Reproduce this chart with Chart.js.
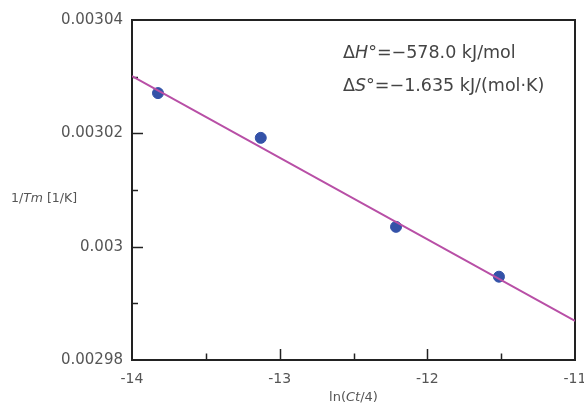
<!DOCTYPE html>
<html>
<head>
<meta charset="utf-8">
<script src="https://cdn.jsdelivr.net/npm/chart.js@4.4.1/dist/chart.umd.min.js"></script>
<style>
  html, body { margin: 0; padding: 0; background: #fff; }
  #chart { display: block; }
</style>
</head>
<body>
<canvas id="chart" width="584" height="405"></canvas>
<script>
// measured points: ln(Ct/4) vs 1/Tm
const lnCt = [-13.824, -13.128, -12.212, -11.515];
const invTm = [0.0030271, 0.0030192, 0.0030035, 0.0029947];

// fitted line, read at the two ends of the x range
const fitX = [-14, -11];
const fitY = [0.0030301, 0.0029869];

const xMajor = [-14, -13, -12, -11];
const xMinor = [-13.5, -12.5, -11.5];
const yMajor = [0.00298, 0.003, 0.00302, 0.00304];
const yMinor = [0.00299, 0.00301, 0.00303];

const FONT = '"DejaVu Sans", sans-serif';
const TEXT = '#555';
const FRAME = '#222';

// draws a string made of plain and italic parts, starting at x
function drawParts(ctx, parts, x, y, size, color) {
    ctx.fillStyle = color;
    ctx.textAlign = 'left';
    ctx.textBaseline = 'middle';
    parts.forEach(p => {
        ctx.font = (p[1] ? 'italic ' : '') + size + 'px ' + FONT;
        ctx.fillText(p[0], x, y);
        x += ctx.measureText(p[0]).width;
    });
}

function partsWidth(ctx, parts, size) {
    let w = 0;
    parts.forEach(p => {
        ctx.font = (p[1] ? 'italic ' : '') + size + 'px ' + FONT;
        w += ctx.measureText(p[0]).width;
    });
    return w;
}

const framePlugin = {
    id: 'frame',
    beforeDatasetsDraw(chart) {
        const { ctx, chartArea: a, scales: { x, y } } = chart;
        ctx.save();
        ctx.strokeStyle = FRAME;
        ctx.lineWidth = 1.5;
        xMajor.slice(1, -1).forEach(v => {
            const px = Math.round(x.getPixelForValue(v)) + 0.5;
            ctx.beginPath(); ctx.moveTo(px, a.bottom); ctx.lineTo(px, a.bottom - 11); ctx.stroke();
        });
        xMinor.forEach(v => {
            const px = Math.round(x.getPixelForValue(v)) + 0.5;
            ctx.beginPath(); ctx.moveTo(px, a.bottom); ctx.lineTo(px, a.bottom - 6.5); ctx.stroke();
        });
        yMajor.slice(1, -1).forEach(v => {
            const py = Math.round(y.getPixelForValue(v)) + 0.5;
            ctx.beginPath(); ctx.moveTo(a.left, py); ctx.lineTo(a.left + 11, py); ctx.stroke();
        });
        yMinor.forEach(v => {
            const py = Math.round(y.getPixelForValue(v)) + 0.5;
            ctx.beginPath(); ctx.moveTo(a.left, py); ctx.lineTo(a.left + 6, py); ctx.stroke();
        });
        ctx.lineWidth = 2;
        ctx.strokeRect(a.left, a.top, a.right - a.left, a.bottom - a.top);
        ctx.restore();
    },
    afterDraw(chart) {
        const { ctx, chartArea: a } = chart;
        ctx.save();
        // y title, written horizontally
        drawParts(ctx, [['1/', false], ['Tm', true], [' [1/K]', false]], 11, 199, 12.5, TEXT);
        // x title
        const xt = [['ln(', false], ['Ct', true], ['/4)', false]];
        const w = partsWidth(ctx, xt, 13);
        drawParts(ctx, xt, (a.left + a.right) / 2 - w / 2, 398, 13, TEXT);
        // thermodynamic values
        drawParts(ctx, [['\u0394', false], ['H', true], ['\u00b0=\u2212578.0 kJ/mol', false]], 343, 53, 17.5, '#444');
        drawParts(ctx, [['\u0394', false], ['S', true], ['\u00b0=\u22121.635 kJ/(mol\u00b7K)', false]], 343, 86, 17.5, '#444');
        ctx.restore();
    }
};

new Chart(document.getElementById('chart'), {
    type: 'scatter',
    data: {
        datasets: [{
            type: 'line',
            data: fitX.map((v, i) => ({ x: v, y: fitY[i] })),
            borderColor: '#b84fa6',
            borderWidth: 2,
            pointRadius: 0,
            fill: false
        }, {
            data: lnCt.map((v, i) => ({ x: v, y: invTm[i] })),
            backgroundColor: '#3452a8',
            borderColor: '#3452a8',
            pointRadius: 5.5,
            pointHoverRadius: 5.5
        }]
    },
    options: {
        responsive: false,
        devicePixelRatio: 1,
        animation: false,
        layout: { padding: { top: 20, right: 9, left: 0, bottom: 0 } },
        plugins: { legend: { display: false }, tooltip: { enabled: false } },
        scales: {
            x: {
                type: 'linear',
                min: -14,
                max: -11,
                grid: { display: false },
                border: { display: false },
                afterBuildTicks: s => { s.ticks = xMajor.map(v => ({ value: v })); },
                ticks: {
                    padding: 3,
                    color: TEXT,
                    font: { family: FONT, size: 14 },
                    callback: v => String(v)
                },
                afterFit: s => { s.height = 45; s.paddingLeft = 0; s.paddingRight = 0; }
            },
            y: {
                type: 'linear',
                min: 0.00298,
                max: 0.00304,
                grid: { display: false },
                border: { display: false },
                afterBuildTicks: s => { s.ticks = yMajor.map(v => ({ value: v })); },
                ticks: {
                    padding: 1,
                    color: TEXT,
                    font: { family: FONT, size: 15 },
                    callback: v => String(Number(v.toPrecision(6)))
                },
                afterFit: s => { s.width = 132; s.paddingTop = 0; s.paddingBottom = 0; }
            }
        }
    },
    plugins: [framePlugin]
});
</script>
</body>
</html>
